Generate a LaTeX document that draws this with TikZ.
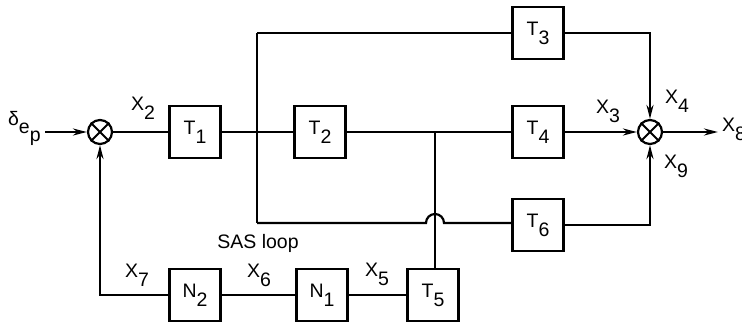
\documentclass[tikz,border=0pt]{standalone}
\usepackage{fontspec}
\setmainfont{Liberation Sans}
\usetikzlibrary{arrows.meta}
\newcommand\sbx[2]{#1\raisebox{-9pt}{#2}}
\begin{document}
\begin{tikzpicture}[x=1pt,y=-1pt, line width=2.2pt,
  blk/.style={draw, minimum width=51pt, minimum height=52pt, inner sep=0pt, font=\fontsize{19.5}{19.5}\selectfont},
  sumj/.style={draw, circle, minimum size=24pt, inner sep=0pt},
  lab/.style={font=\fontsize{19.5}{19.5}\selectfont, inner sep=1pt},
  arr/.style={-{Stealth[length=14pt,width=7pt]}}]
\clip (0,0) rectangle (742,322);
% summing junctions
\node[sumj] (s1) at (100,132) {};
\node[sumj] (s2) at (650,132) {};
\foreach \s in {s1,s2}{
  \draw[line width=1.8pt] (\s.north west) -- (\s.south east);
  \draw[line width=1.8pt] (\s.north east) -- (\s.south west);
}
% blocks
\node[blk] (t1) at (195,132) {\sbx{T}{1}};
\node[blk] (t2) at (320,132) {\sbx{T}{2}};
\node[blk] (t3) at (538,33) {\sbx{T}{3}};
\node[blk] (t4) at (538,132) {\sbx{T}{4}};
\node[blk] (t6) at (538,225) {\sbx{T}{6}};
\node[blk] (n2) at (195,295) {\sbx{N}{2}};
\node[blk] (n1) at (322,295) {\sbx{N}{1}};
\node[blk] (t5) at (433,295) {\sbx{T}{5}};
% coordinates
\coordinate (a0) at (45,132);
\coordinate (jt) at (257,33);
\coordinate (jb) at (257,223);
\coordinate (jv) at (435,132);
\coordinate (out) at (718,132);
% input label
\node[lab, anchor=north west] (din) at (6,109) {δ\raisebox{-0.8ex}{e\raisebox{-0.8ex}{p}}};
% connectors
\draw[arr] (a0) -- (s1.west);
\draw (s1.east) -- (t1.west);
\draw (t1.east) -- (t2.west);
\draw (jt) -- (jb);
\draw (jt) -- (t3.west);
\draw (t2.east) -- (t4.west);
\draw[arr] (t3.east) -| (s2.north);
\draw[arr] (t4.east) -- (s2.west);
\draw[arr] (t6.east) -| (s2.south);
\draw[arr] (s2.east) -- (out);
\draw (jb) -- ([xshift=-9pt]jv |- jb) arc[start angle=180, end angle=0, radius=9pt] -- (jb -| t6.west);
\draw (jv) -- (jv |- t5.north);
\draw (t5.west) -- (n1.east);
\draw (n1.west) -- (n2.east);
\draw[arr] (n2.west) -| (s1.south);
% labels
\node[lab] (x2) at (143,108) {\sbx{X}{2}};
\node[lab] (x3) at (608,111) {\sbx{X}{3}};
\node[lab] (x4) at (677,101) {\sbx{X}{4}};
\node[lab] (x9) at (676,166) {\sbx{X}{9}};
\node[lab, anchor=west] (x8) at (720,129) {\sbx{X}{8}};
\node[lab] (x7) at (137,275) {\sbx{X}{7}};
\node[lab] (x6) at (259,275) {\sbx{X}{6}};
\node[lab] (x5) at (377,274) {\sbx{X}{5}};
\node[lab] (sas) at (258,243) {SAS loop};
\end{tikzpicture}
\end{document}
